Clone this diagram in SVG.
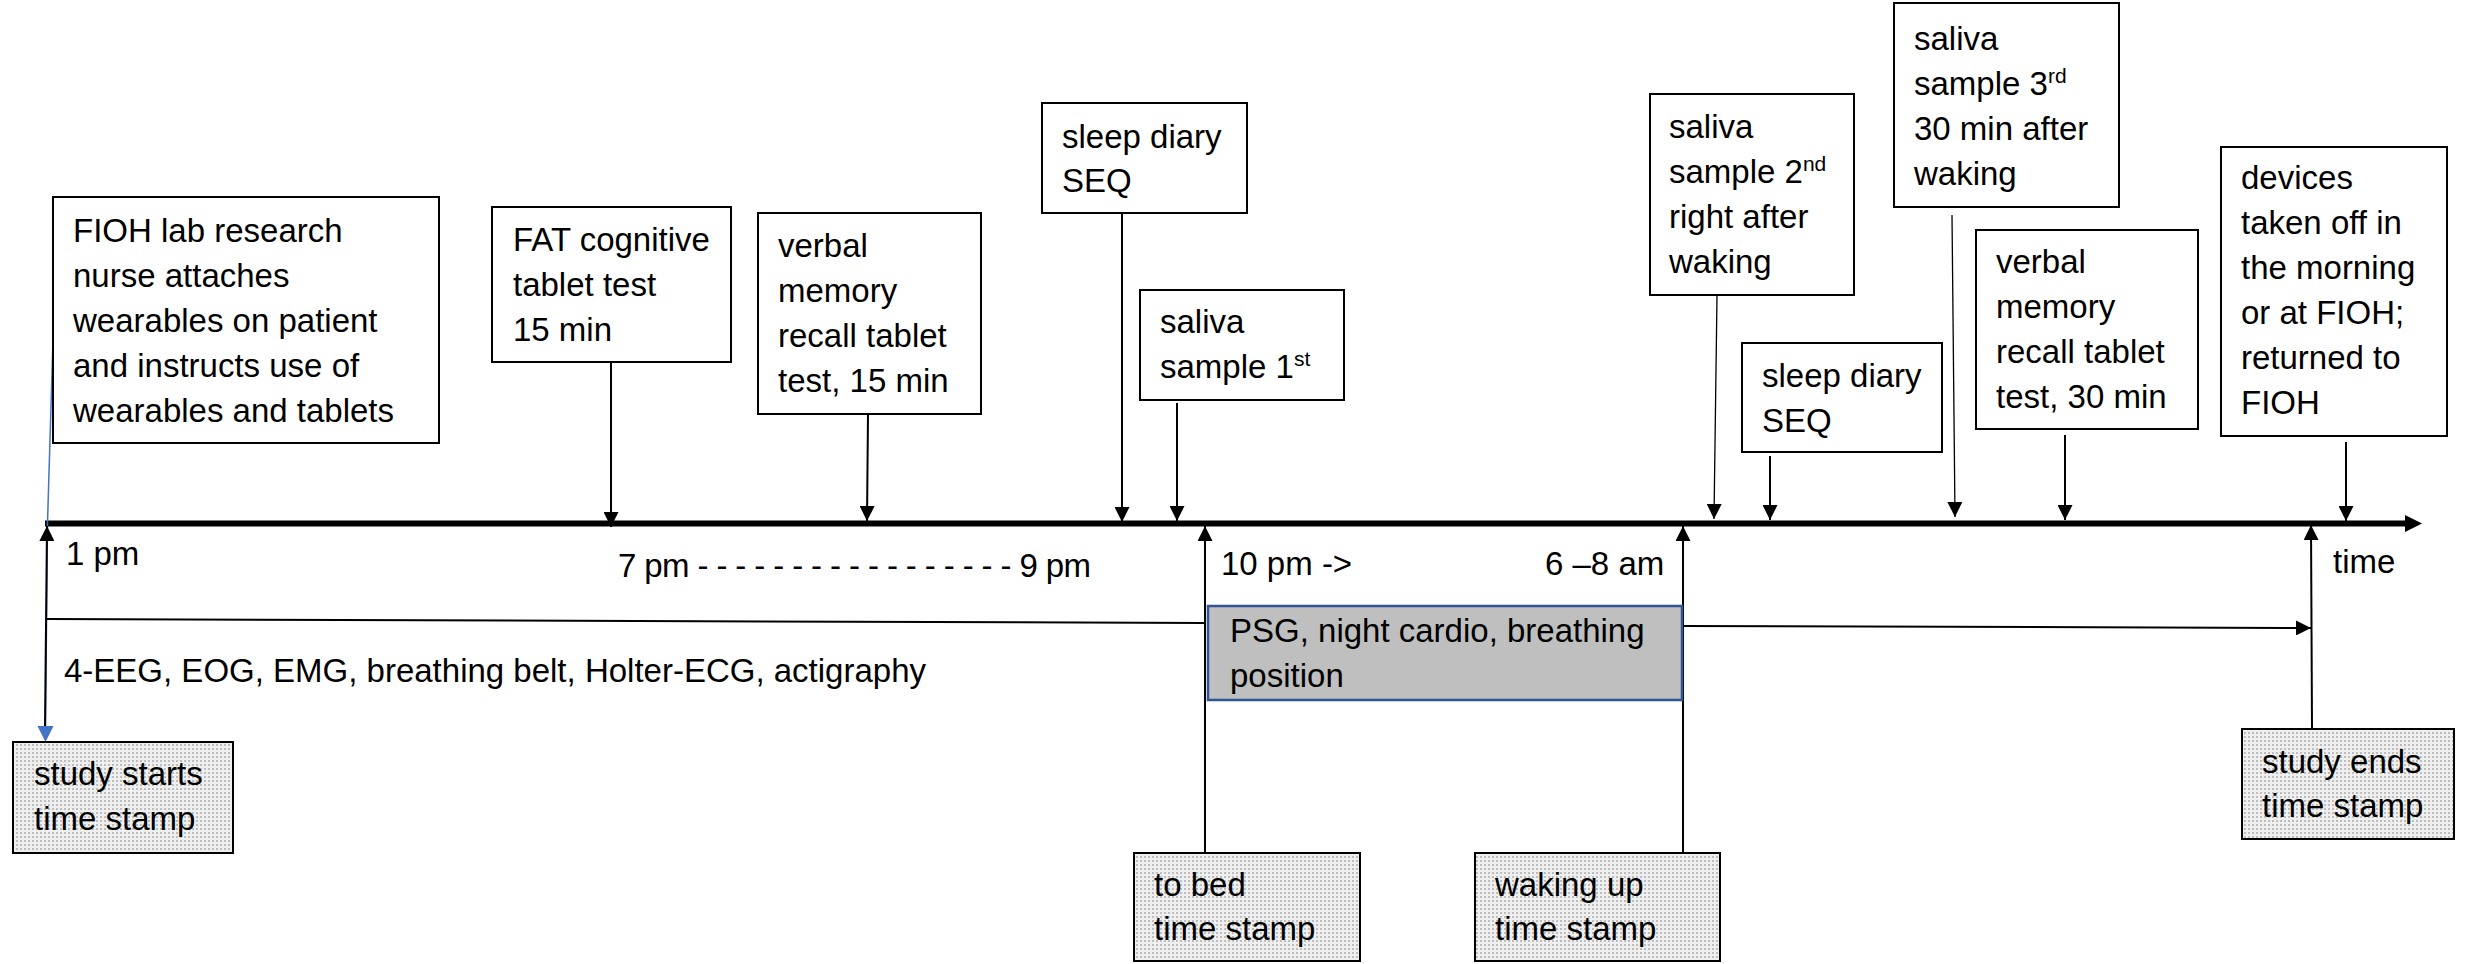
<svg xmlns="http://www.w3.org/2000/svg" width="2483" height="964" viewBox="0 0 2483 964">
<defs>
<style>
text{font-family:"Liberation Sans",Arial,sans-serif;font-size:33px;fill:#000}
.box{fill:#fff;stroke:#000;stroke-width:2}
.ts{fill:url(#dots);stroke:#000;stroke-width:2}
.psg{fill:#BFBFBF;stroke:#2F5597;stroke-width:2.5}
.c{stroke:#000;stroke-width:2;fill:none}
.thin{stroke:#000;stroke-width:1.3;fill:none}
.axis{stroke:#000;stroke-width:6;fill:none}
.blue{stroke:#4472C4;stroke-width:1.5;fill:none}
.sup{font-size:21px}
</style>
<pattern id="dots" width="4" height="4" patternUnits="userSpaceOnUse"><rect width="4" height="4" fill="#efefef"/><rect width="2" height="2" fill="#bdbdbd"/></pattern>
<marker id="ah" viewBox="0 0 10 10" refX="10" refY="5" markerWidth="15" markerHeight="15" markerUnits="userSpaceOnUse" orient="auto"><path d="M0,0 L10,5 L0,10 z" fill="#000"/></marker>
<marker id="ahb" viewBox="0 0 10 10" refX="10" refY="5" markerWidth="16" markerHeight="16" markerUnits="userSpaceOnUse" orient="auto"><path d="M0,0 L10,5 L0,10 z" fill="#4472C4"/></marker>
<marker id="ahx" viewBox="0 0 10 10" refX="0" refY="5" markerWidth="17" markerHeight="17" markerUnits="userSpaceOnUse" orient="auto"><path d="M0,0 L10,5 L0,10 z" fill="#000"/></marker>
</defs>
<rect width="2483" height="964" fill="#fff"/>

<g id="connectors">
<path class="axis" d="M45,523.5 L2405,523.5" marker-end="url(#ahx)"/>
<path class="blue" d="M53,340 L47.5,523 L45.5,726"/>
<path class="c" d="M45,727 L47,526" marker-end="url(#ah)"/>
<path d="M37.5,726 L53.5,726 L45.5,742 z" fill="#4472C4"/>
<path class="c" d="M611,362 L611,527" marker-end="url(#ah)"/>
<path class="c" d="M868,414 L867,521" marker-end="url(#ah)"/>
<path class="c" d="M1122,213 L1122,522" marker-end="url(#ah)"/>
<path class="c" d="M1177,403 L1177,521" marker-end="url(#ah)"/>
<path class="thin" d="M1717,296 L1714,519" marker-end="url(#ah)"/>
<path class="c" d="M1770,456 L1770,520" marker-end="url(#ah)"/>
<path class="thin" d="M1952,215 L1955,517" marker-end="url(#ah)"/>
<path class="c" d="M2065,435 L2065,520" marker-end="url(#ah)"/>
<path class="c" d="M2346,442 L2346,521" marker-end="url(#ah)"/>
<path class="c" d="M1205,853 L1205,526" marker-end="url(#ah)"/>
<path class="c" d="M1683,853 L1683,526" marker-end="url(#ah)"/>
<path class="c" d="M2312,729 L2311,525" marker-end="url(#ah)"/>
<path class="c" d="M47,619 L1205,623"/>
<path class="c" d="M1683,626 L2311,628" marker-end="url(#ah)"/>
</g>

<g id="fioh">
<rect class="box" x="53" y="197" width="386" height="246"/>
<text x="73" y="242">FIOH lab research</text>
<text x="73" y="287">nurse attaches</text>
<text x="73" y="332">wearables on patient</text>
<text x="73" y="377">and instructs use of</text>
<text x="73" y="422">wearables and tablets</text>
</g>

<g id="fat">
<rect class="box" x="492" y="207" width="239" height="155"/>
<text x="513" y="251">FAT cognitive</text>
<text x="513" y="296">tablet test</text>
<text x="513" y="341">15  min</text>
</g>

<g id="verbal1">
<rect class="box" x="758" y="213" width="223" height="201"/>
<text x="778" y="257">verbal</text>
<text x="778" y="302">memory</text>
<text x="778" y="347">recall tablet</text>
<text x="778" y="392">test, 15 min</text>
</g>

<g id="sleep1">
<rect class="box" x="1042" y="103" width="205" height="110"/>
<text x="1062" y="148">sleep diary</text>
<text x="1062" y="192">SEQ</text>
</g>

<g id="saliva1">
<rect class="box" x="1140" y="290" width="204" height="110"/>
<text x="1160" y="333">saliva</text>
<text x="1160" y="378">sample 1<tspan class="sup" dy="-12">st</tspan></text>
</g>

<g id="saliva2">
<rect class="box" x="1650" y="94" width="204" height="201"/>
<text x="1669" y="138">saliva</text>
<text x="1669" y="183">sample 2<tspan class="sup" dy="-12">nd</tspan></text>
<text x="1669" y="228">right after</text>
<text x="1669" y="273">waking</text>
</g>

<g id="sleep2">
<rect class="box" x="1742" y="343" width="200" height="109"/>
<text x="1762" y="387">sleep diary</text>
<text x="1762" y="432">SEQ</text>
</g>

<g id="saliva3">
<rect class="box" x="1894" y="3" width="225" height="204"/>
<text x="1914" y="50">saliva</text>
<text x="1914" y="95">sample 3<tspan class="sup" dy="-12">rd</tspan></text>
<text x="1914" y="140">30 min after</text>
<text x="1914" y="185">waking</text>
</g>

<g id="verbal2">
<rect class="box" x="1976" y="230" width="222" height="199"/>
<text x="1996" y="273">verbal</text>
<text x="1996" y="318">memory</text>
<text x="1996" y="363">recall tablet</text>
<text x="1996" y="408">test, 30 min</text>
</g>

<g id="devices">
<rect class="box" x="2221" y="147" width="226" height="289"/>
<text x="2241" y="189">devices</text>
<text x="2241" y="234">taken off in</text>
<text x="2241" y="279">the morning</text>
<text x="2241" y="324">or at FIOH;</text>
<text x="2241" y="369">returned to</text>
<text x="2241" y="414">FIOH</text>
</g>

<g id="psg">
<rect class="psg" x="1208" y="606" width="474" height="94"/>
<text x="1230" y="642">PSG, night cardio, breathing</text>
<text x="1230" y="687">position</text>
</g>

<g id="study-starts">
<rect class="ts" x="13" y="742" width="220" height="111"/>
<text x="34" y="785">study starts</text>
<text x="34" y="830">time stamp</text>
</g>

<g id="to-bed">
<rect class="ts" x="1134" y="853" width="226" height="108"/>
<text x="1154" y="896">to bed</text>
<text x="1154" y="940">time stamp</text>
</g>

<g id="waking-up">
<rect class="ts" x="1475" y="853" width="245" height="108"/>
<text x="1495" y="896">waking up</text>
<text x="1495" y="940">time stamp</text>
</g>

<g id="study-ends">
<rect class="ts" x="2242" y="729" width="212" height="110"/>
<text x="2262" y="773">study ends</text>
<text x="2262" y="817">time stamp</text>
</g>

<g id="labels">
<text x="66" y="565">1 pm</text>
<text x="618" y="577" textLength="473" lengthAdjust="spacing">7 pm - - - - - - - - - - - - - - - - - 9 pm</text>
<text x="1221" y="575">10 pm -&gt;</text>
<text x="1545" y="575">6 –8 am</text>
<text x="2333" y="573">time</text>
<text x="64" y="682">4-EEG, EOG, EMG, breathing belt, Holter-ECG, actigraphy</text>
</g>
</svg>
